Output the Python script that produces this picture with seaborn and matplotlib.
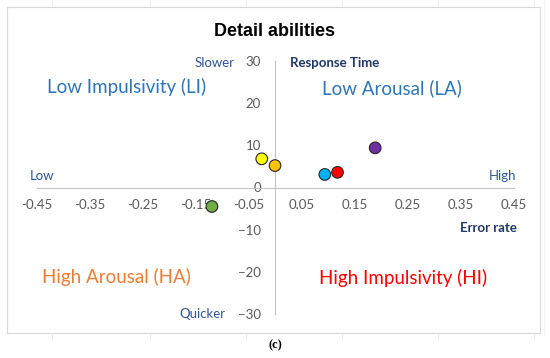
import numpy as np
import pandas as pd
import matplotlib
matplotlib.use("Agg")
import matplotlib.pyplot as plt
from matplotlib.patches import Rectangle
from matplotlib.lines import Line2D
import seaborn as sns

# data
error_rate = [-0.025, 0.0, 0.094, 0.118, 0.189, -0.119]
response_time = [6.8, 5.2, 3.1, 3.6, 9.4, -4.5]
groups = ["yellow", "orange", "blue", "red", "purple", "green"]
point_colors = ["#FFFF00", "#FFC000", "#00B0F0", "#FF0000", "#7030A0", "#70AD47"]
x_ticks = [-0.45, -0.35, -0.25, -0.15, -0.05, 0.05, 0.15, 0.25, 0.35, 0.45]
y_ticks = [-30, -20, -10, 0, 10, 20, 30]

df = pd.DataFrame({"Error rate": error_rate, "Response Time": response_time, "Group": groups})

sns.set_theme(style="white")
plt.rcParams["font.family"] = ["Lato", "DejaVu Sans"]

fig = plt.figure(figsize=(5.5, 3.58), dpi=100)
ax = fig.add_axes([36.5 / 550, 1 - 314 / 358, 477 / 550, 253 / 358])

sns.scatterplot(data=df, x="Error rate", y="Response Time", hue="Group",
                palette=dict(zip(groups, point_colors)), s=70, edgecolor="#262626",
                linewidth=0.8, legend=False, ax=ax, zorder=3)

ax.set_xlim(-0.45, 0.45)
ax.set_ylim(-30, 30)
ax.set_xticks(x_ticks)
ax.set_xticklabels([f"{v:.2f}" for v in x_ticks])
ax.set_yticks(y_ticks)
ax.set_xlabel("")
ax.set_ylabel("")

for side in ["top", "right"]:
    ax.spines[side].set_visible(False)
for side in ["left", "bottom"]:
    ax.spines[side].set_position(("data", 0))
    ax.spines[side].set_color("#C4C4C4")
    ax.spines[side].set_linewidth(0.8)
ax.tick_params(axis="both", length=0, labelsize=9.5, colors="#595959")
ax.tick_params(axis="y", pad=10)
ax.tick_params(axis="x", pad=8)
ax.patch.set_alpha(0)

# axis captions and quadrant names
dark_blue = "#2F5597"
navy = "#1F3864"
quad_blue = "#2E75B6"
ax.text(-0.077, 29.5, "Slower", ha="right", va="center", fontsize=9.5, color=dark_blue, clip_on=False)
ax.text(0.028, 29.5, "Response Time", ha="left", va="center", fontsize=9.5, fontweight="bold", color=navy, clip_on=False)
ax.text(-0.093, -30.1, "Quicker", ha="right", va="center", fontsize=9.5, color=dark_blue, clip_on=False)
ax.text(-0.462, 2.7, "Low", ha="left", va="center", fontsize=9.5, color=dark_blue, clip_on=False)
ax.text(0.455, 2.7, "High", ha="right", va="center", fontsize=9.5, color=dark_blue, clip_on=False)
ax.text(0.457, -9.6, "Error rate", ha="right", va="center", fontsize=9.5, fontweight="bold", color=navy, clip_on=False)

ax.text(-0.281, 23.8, "Low Impulsivity (LI)", ha="center", va="center", fontsize=13.5, color=quad_blue)
ax.text(0.221, 23.6, "Low Arousal (LA)", ha="center", va="center", fontsize=13.5, color=quad_blue)
ax.text(-0.30, -21.2, "High Arousal (HA)", ha="center", va="center", fontsize=13.5, color="#ED7D31")
ax.text(0.242, -21.4, "High Impulsivity (HI)", ha="center", va="center", fontsize=13.5, color="#FF0000")

fig.text(0.5, 1 - 31.5 / 358, "Detail abilities", ha="center", va="center",
         fontsize=13, fontweight="bold", family="Liberation Sans", color="black")
fig.text(0.5, 1 - 345 / 358, "(c)", ha="center", va="center", fontsize=9,
         fontweight="bold", family="Liberation Serif", color="black")

# chart frame and faint sheet grid around it
fig.patches.append(Rectangle((7 / 550, 1 - 333 / 358), 533 / 550, 326 / 358,
                             transform=fig.transFigure, fill=False,
                             edgecolor="#D9D9D9", linewidth=0.8))
for px in [52, 150, 246, 342, 438, 534]:
    fig.lines.append(Line2D([px / 550, px / 550], [1 - 333 / 358, 1 - 339 / 358],
                            transform=fig.transFigure, color="#E6E6E6", lw=0.6))
    fig.lines.append(Line2D([px / 550, px / 550], [1, 1 - 6 / 358],
                            transform=fig.transFigure, color="#EDEDED", lw=0.6))
fig.lines.append(Line2D([544 / 550, 544 / 550], [1, 1 - 336 / 358],
                        transform=fig.transFigure, color="#EDEDED", lw=0.6))

fig.savefig("out.png", dpi=100, facecolor="white")
